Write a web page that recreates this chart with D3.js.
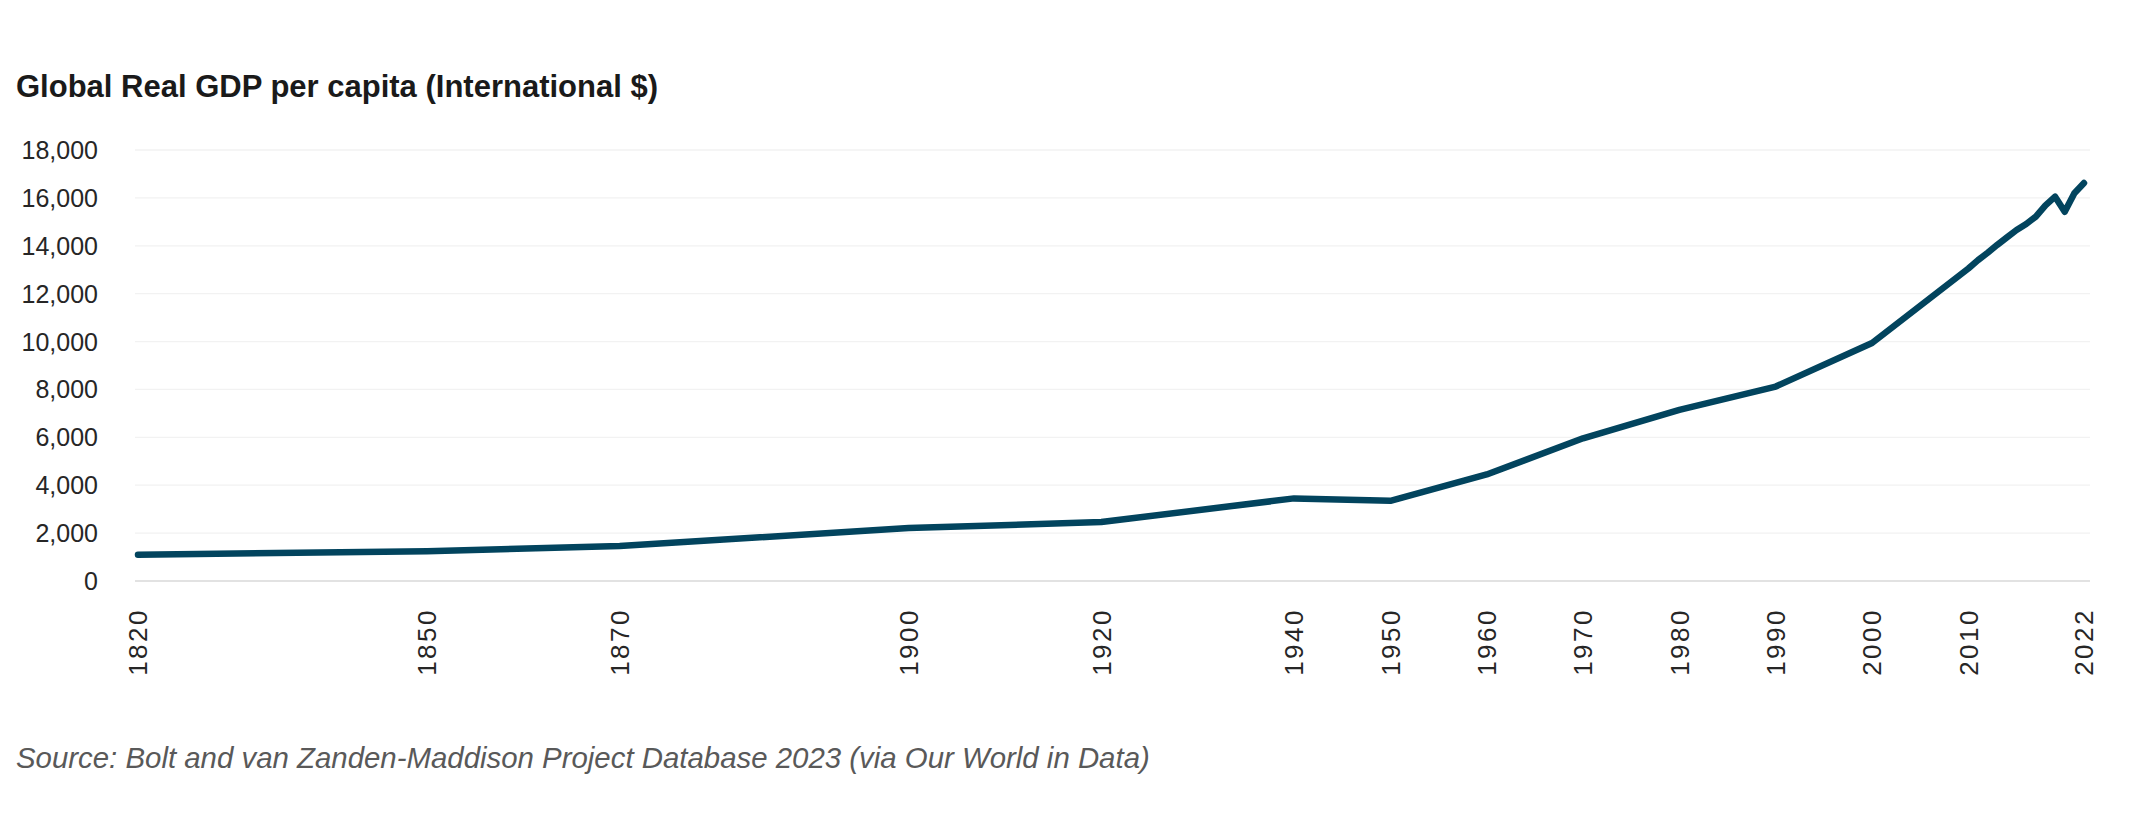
<!DOCTYPE html>
<html>
<head>
<meta charset="utf-8">
<script src="https://cdn.jsdelivr.net/npm/d3@7"></script>
<style>
  html, body { margin: 0; padding: 0; background: #ffffff; }
  svg { display: block; }
</style>
</head>
<body>
<svg id="chart" width="2134" height="837"></svg>
<script>
// ---- data ----
const years = [1820, 1850, 1870, 1900, 1920, 1940, 1950, 1960, 1970, 1980, 1990, 2000,
               2010, 2011, 2012, 2013, 2014, 2015, 2016, 2017, 2018, 2019, 2020, 2021, 2022];
const gdpPerCapita = [1100, 1240, 1462, 2210, 2460, 3450, 3350, 4450, 5960, 7150, 8120, 9940,
                      13050, 13400, 13710, 14040, 14350, 14660, 14910, 15220, 15690, 16050, 15420, 16190, 16620];
const xTickYears = [1820, 1850, 1870, 1900, 1920, 1940, 1950, 1960, 1970, 1980, 1990, 2000, 2010, 2022];
const yTicks = [0, 2000, 4000, 6000, 8000, 10000, 12000, 14000, 16000, 18000];
const titleText = "Global Real GDP per capita (International $)";
const sourceText = "Source: Bolt and van Zanden-Maddison Project Database 2023 (via Our World in Data)";

// ---- layout ----
const svg = d3.select("#chart");
const plot = { left: 135, right: 2090, top: 150, bottom: 581 };

const x = d3.scaleLinear().domain([1820, 2022]).range([138, 2084]);
const y = d3.scaleLinear().domain([0, 18000]).range([plot.bottom, plot.top]);

// gridlines
svg.append("g").selectAll("line")
  .data(yTicks.filter(d => d !== 0))
  .join("line")
  .attr("x1", plot.left).attr("x2", plot.right)
  .attr("y1", d => y(d)).attr("y2", d => y(d))
  .attr("stroke", "#f2f2f2").attr("stroke-width", 1.3);

// zero axis line
svg.append("line")
  .attr("x1", plot.left).attr("x2", plot.right)
  .attr("y1", y(0)).attr("y2", y(0))
  .attr("stroke", "#d9d9d9").attr("stroke-width", 1.6);

// y axis labels
const fmt = d3.format(",");
svg.append("g").selectAll("text")
  .data(yTicks)
  .join("text")
  .attr("x", 98).attr("y", d => y(d))
  .attr("dy", "0.36em")
  .attr("text-anchor", "end")
  .attr("font-family", "Liberation Sans, Arial, sans-serif")
  .attr("font-size", 25)
  .attr("fill", "#262626")
  .text(d => fmt(d));

// x axis labels (rotated)
svg.append("g").selectAll("text")
  .data(xTickYears)
  .join("text")
  .attr("transform", d => `translate(${x(d)},608) rotate(-90)`)
  .attr("dy", "0.36em")
  .attr("text-anchor", "end")
  .attr("font-family", "Liberation Sans, Arial, sans-serif")
  .attr("font-size", 26)
  .attr("letter-spacing", 2.5)
  .attr("fill", "#262626")
  .text(d => d);

// line
const line = d3.line()
  .x((d, i) => x(years[i]))
  .y(d => y(d))
  .curve(d3.curveLinear);

svg.append("path")
  .datum(gdpPerCapita)
  .attr("d", line)
  .attr("fill", "none")
  .attr("stroke", "#02445e")
  .attr("stroke-width", 6.5)
  .attr("stroke-linejoin", "round")
  .attr("stroke-linecap", "round");

// title
svg.append("text")
  .attr("x", 16).attr("y", 97)
  .attr("font-family", "Liberation Sans, Arial, sans-serif")
  .attr("font-weight", "bold")
  .attr("font-size", 31)
  .attr("fill", "#1a1a1a")
  .text(titleText);

// source
svg.append("text")
  .attr("x", 16).attr("y", 768)
  .attr("font-family", "Liberation Sans, Arial, sans-serif")
  .attr("font-style", "italic")
  .attr("font-size", 29.4)
  .attr("fill", "#595959")
  .text(sourceText);
</script>
</body>
</html>
